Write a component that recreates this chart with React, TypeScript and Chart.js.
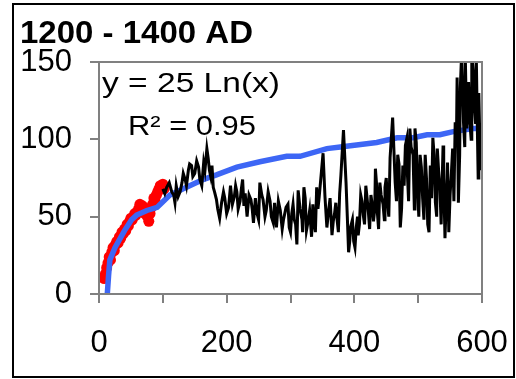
import React, { useEffect, useRef } from "react";
import { Chart, registerables } from "chart.js";

Chart.register(...registerables);

const W = 516;
const H = 379;
const FONT = "'Liberation Sans', Arial, sans-serif";

const TITLE = "1200 - 1400 AD";
const EQUATION = "y = 25 Ln(x)";
const R2_TEXT = "R² = 0.95";

const xTickLabels = [0, 200, 400, 600];

// red points (early record)
const redX = [8, 10, 12, 14, 16, 18, 20, 22, 24, 26, 28, 30, 32, 34, 36, 38, 40, 42, 44, 46, 48, 50, 52, 54, 56, 58, 60, 62, 64, 66, 68, 70, 72, 74, 76, 78, 80, 82, 84, 86, 88, 90, 92, 94, 96, 98, 100, 102];
const redY = [10, 13, 17, 20, 24, 22, 27, 30, 28, 32, 34, 33, 37, 36, 40, 39, 42, 41, 45, 44, 47, 49, 48, 50, 52, 51, 53, 55, 58, 56, 57, 54, 52, 55, 50, 47, 52, 56, 58, 62, 60, 64, 66, 68, 70, 69, 71, 68];

// black line (later record)
const blackX = [100, 103, 106, 110, 114, 117, 119, 121, 124, 127, 130, 132, 135, 137, 140, 142, 145, 147, 150, 153, 156, 158, 161, 164, 166, 169, 171, 173, 175, 177, 179, 181, 184, 186, 189, 192, 195, 197, 200, 203, 206, 209, 212, 214, 216, 218, 221, 223, 225, 227, 229, 232, 235, 238, 240, 242, 245, 247, 250, 252, 255, 257, 260, 262, 265, 268, 270, 273, 275, 278, 281, 284, 287, 289, 291, 293, 296, 298, 300, 302, 304, 306, 308, 310, 312, 315, 318, 319, 321, 323, 325, 328, 330, 333, 335, 337, 339, 341, 343, 345, 351, 354, 357, 360, 362, 365, 367, 369, 371, 373, 375, 377, 379, 383, 387, 389, 391, 393, 394, 397, 399, 401, 403, 405, 406, 408, 410, 412, 414, 416, 418, 420, 422, 424, 426, 428, 430, 432, 433, 435, 436, 438, 440, 442, 445, 447, 448, 450, 452, 454, 456, 460, 464, 466, 468, 470, 472, 474, 476, 478, 480, 482, 483, 485, 487, 489, 492, 494, 495, 497, 499, 501, 503, 505, 507, 509, 511, 513, 515, 517, 519, 521, 523, 525, 527, 529, 530, 532, 534, 536, 539, 540, 542, 544, 546, 548, 550, 552, 554, 556, 558, 560, 561, 563, 565, 566, 568, 570, 571, 573, 574, 576, 578, 579, 581, 583, 584, 587, 588, 590, 591, 593, 594, 595, 596, 598, 599, 600];
const blackY = [68, 65, 69, 72, 66, 64, 59, 70, 63, 66, 72, 78, 74, 70, 80, 84, 83, 76, 78, 86, 82, 74, 70, 85, 80, 94, 88, 80, 76, 83, 69, 66, 61, 55, 49, 59, 66, 62, 52, 56, 70, 58, 63, 70, 66, 55, 60, 68, 74, 57, 65, 50, 64, 61, 55, 46, 62, 53, 48, 72, 64, 61, 50, 54, 66, 60, 50, 46, 59, 43, 60, 54, 42, 48, 52, 56, 58, 43, 40, 52, 58, 48, 45, 32, 67, 55, 48, 40, 69, 62, 41, 48, 54, 37, 58, 46, 40, 69, 55, 63, 91, 63, 43, 55, 62, 38, 47, 52, 59, 48, 40, 65, 77, 106, 72, 50, 27, 35, 43, 48, 34, 30, 43, 50, 38, 45, 64, 60, 51, 45, 70, 62, 53, 42, 64, 58, 47, 55, 81, 70, 53, 42, 72, 64, 58, 48, 69, 75, 59, 50, 88, 114, 72, 60, 90, 84, 43, 55, 83, 70, 96, 100, 79, 60, 107, 95, 90, 55, 107, 98, 69, 50, 90, 82, 62, 48, 90, 75, 45, 40, 83, 62, 101, 90, 59, 50, 94, 80, 69, 45, 96, 75, 36, 60, 85, 40, 64, 78, 94, 60, 111, 100, 140, 59, 90, 133, 155, 130, 111, 95, 150, 107, 120, 137, 111, 100, 155, 140, 122, 110, 155, 100, 75, 130, 111, 80, 94, 92];

// blue fitted curve
const fitX = [13, 15, 17, 25, 40, 51, 59, 75, 91, 96, 111, 137, 163, 184, 216, 252, 294, 315, 357, 378, 435, 467, 492, 514, 534, 555, 586, 600];
const fitY = [0, 12, 22, 30, 41, 48, 51, 54, 56, 58, 64, 69, 74, 77, 82, 85.5, 89, 89, 94, 95, 98, 101, 101, 103, 103, 105, 107, 107];

const pts = (xs: number[], ys: number[]) => xs.map((x, i) => ({ x, y: ys[i] }));

function stretchedText(ctx: CanvasRenderingContext2D, text: string, x: number, y: number, targetWidth: number) {
  const w = ctx.measureText(text).width;
  ctx.save();
  ctx.translate(x, y);
  ctx.scale(targetWidth / w, 1);
  ctx.fillText(text, 0, 0);
  ctx.restore();
}

const framePlugin = {
  id: "frame",
  afterDraw(chart: any) {
    const { ctx, chartArea } = chart;
    ctx.save();
    ctx.strokeStyle = "#808080";
    ctx.lineWidth = 2;
    ctx.strokeRect(chartArea.left, chartArea.top, chartArea.right - chartArea.left, chartArea.bottom - chartArea.top);
    ctx.strokeStyle = "#000";
    ctx.lineWidth = 2;
    ctx.strokeRect(13, 4, 501, 373);
    ctx.fillStyle = "#000";
    ctx.textBaseline = "alphabetic";
    ctx.textAlign = "left";
    ctx.font = `bold 32px ${FONT}`;
    stretchedText(ctx, TITLE, 20, 43, 233);
    ctx.font = `28px ${FONT}`;
    stretchedText(ctx, EQUATION, 102, 92, 178);
    stretchedText(ctx, R2_TEXT, 128, 135, 128);
    ctx.restore();
  },
};

export default function App() {
  const ref = useRef<HTMLCanvasElement>(null);
  useEffect(() => {
    const chart = new Chart(ref.current as HTMLCanvasElement, {
      type: "scatter",
      data: {
        datasets: [
          {
            label: "record",
            data: pts(blackX, blackY),
            showLine: true,
            borderColor: "#000",
            borderWidth: 3,
            pointRadius: 0,
            tension: 0,
          },
          {
            label: "fit",
            data: pts(fitX, fitY),
            showLine: true,
            borderColor: "#3D66F5",
            borderWidth: 5.5,
            pointRadius: 0,
            tension: 0,
          },
          {
            label: "early",
            data: pts(redX, redY),
            showLine: false,
            pointRadius: 5.5,
            backgroundColor: "#FF0000",
            borderWidth: 0,
          },
        ],
      },
      options: {
        animation: false,
        responsive: false,
        layout: { padding: { left: 0, top: 62, right: 34, bottom: 0 } },
        plugins: { legend: { display: false }, tooltip: { enabled: false }, title: { display: false } },
        scales: {
          x: {
            type: "linear",
            min: 0,
            max: 600,
            afterFit: (s: any) => {
              s.height = 85;
              s.paddingLeft = 0;
              s.paddingRight = 0;
            },
            ticks: {
              stepSize: 100,
              autoSkip: false,
              maxRotation: 0,
              color: "#000",
              padding: 22,
              font: { family: FONT, size: 31 },
              callback: (v: any) => (xTickLabels.includes(Number(v)) ? String(v) : ""),
            },
            grid: { drawOnChartArea: false, tickLength: 9, color: "#808080", lineWidth: 2 },
            border: { color: "#808080", width: 2 },
          },
          y: {
            min: 0,
            max: 150,
            afterFit: (s: any) => {
              s.width = 99;
              s.paddingTop = 0;
              s.paddingBottom = 0;
            },
            ticks: {
              stepSize: 50,
              color: "#000",
              padding: 18,
              font: { family: FONT, size: 31 },
            },
            grid: { drawOnChartArea: false, tickLength: 9, color: "#808080", lineWidth: 2 },
            border: { color: "#808080", width: 2 },
          },
        },
      },
      plugins: [framePlugin],
    });
    return () => chart.destroy();
  }, []);
  return (
    <canvas
      ref={ref}
      width={W}
      height={H}
      style={{ position: "absolute", left: 0, top: 0, width: W, height: H, display: "block" }}
    />
  );
}
